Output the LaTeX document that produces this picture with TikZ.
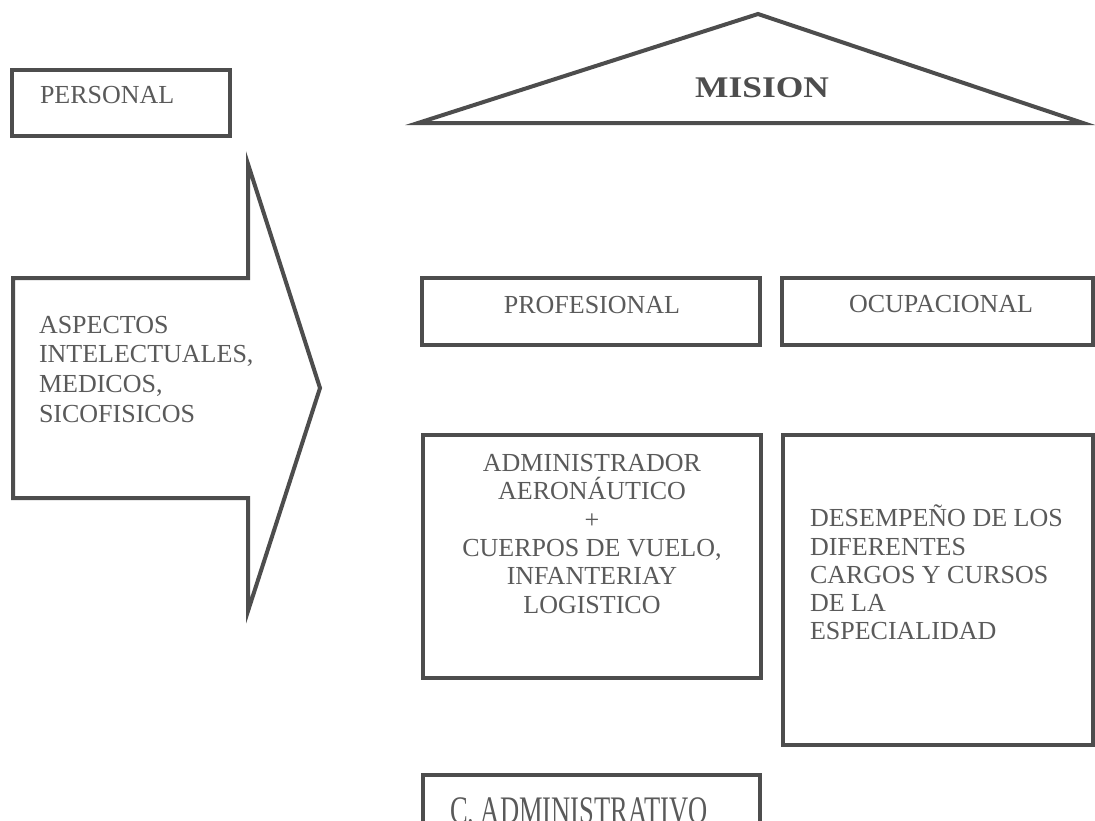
\documentclass[tikz,border=0pt]{standalone}
\usepackage{fontspec}
\usepackage{graphicx}
\setmainfont{Liberation Serif}
\definecolor{linegray}{HTML}{4D4D4D}
\definecolor{textgray}{HTML}{5A5A5A}
\tikzset{
  boxnode/.style={draw=linegray, line width=4pt, rectangle, inner sep=0pt, outer sep=0pt},
  shapeline/.style={draw=linegray, line width=4pt, line join=miter},
  lbl/.style={text=textgray, inner sep=0pt, outer sep=0pt, font=\fontsize{26}{28.4}\selectfont},
}
\begin{document}
\begin{tikzpicture}[x=1pt,y=-1pt]
\useasboundingbox (0,0) rectangle (1095,820);
\fill[white] (0,0) rectangle (1095,820);
\clip (0,0) rectangle (1095,820);

% boxes
\node[boxnode, minimum width=218pt, minimum height=66pt] (personal) at (121,103) {};
\node[boxnode, minimum width=338pt, minimum height=67pt] (profesional) at (591,311.5) {};
\node[boxnode, minimum width=311pt, minimum height=67pt] (ocupacional) at (937.5,311.5) {};
\node[boxnode, minimum width=338pt, minimum height=243pt] (admin) at (592,556.5) {};
\node[boxnode, minimum width=310pt, minimum height=310pt] (desempeno) at (938,590) {};
\node[boxnode, minimum width=337pt, minimum height=55pt] (cadmin) at (591.5,802.5) {};

% triangle (mision)
\draw[shapeline] (418,123) -- (758,14) -- (1083,123) -- cycle;

% block arrow
\draw[shapeline] (13,278) -- (248,278) -- (248,164) -- (320,388) -- (248,611) -- (248,498) -- (13,498) -- cycle;

% texts
\node[lbl, anchor=base west] (tpersonal) at (40,103) {PERSONAL};
\node[text=linegray, inner sep=0pt, anchor=base, font=\fontsize{30}{32}\selectfont\bfseries, xscale=1.18, transform shape] (tmision) at (762,97) {MISION};
\node[lbl, anchor=base] (tprofesional) at (592,313) {PROFESIONAL};
\node[lbl, anchor=base] (tocupacional) at (941,312) {OCUPACIONAL};
\node[lbl, anchor=north west, align=left, font=\fontsize{26}{29.8}\selectfont] (taspectos) at (39,315.8) {ASPECTOS\\INTELECTUALES,\\MEDICOS,\\SICOFISICOS};
\node[lbl, anchor=north, align=center] (tadmin) at (592,454) {ADMINISTRADOR\\AERONÁUTICO\\+\\CUERPOS DE VUELO,\\INFANTERIAY\\LOGISTICO};
\node[lbl, anchor=north west, align=left, font=\fontsize{26}{28.3}\selectfont] (tdesempeno) at (810,505) {DESEMPEÑO DE LOS\\DIFERENTES\\CARGOS Y CURSOS\\DE LA\\ESPECIALIDAD};
\node[lbl, anchor=base west] (tcadmin) at (450,823) {\scalebox{1.02}[1.5]{C. ADMINISTRATIVO}};
\end{tikzpicture}
\end{document}
